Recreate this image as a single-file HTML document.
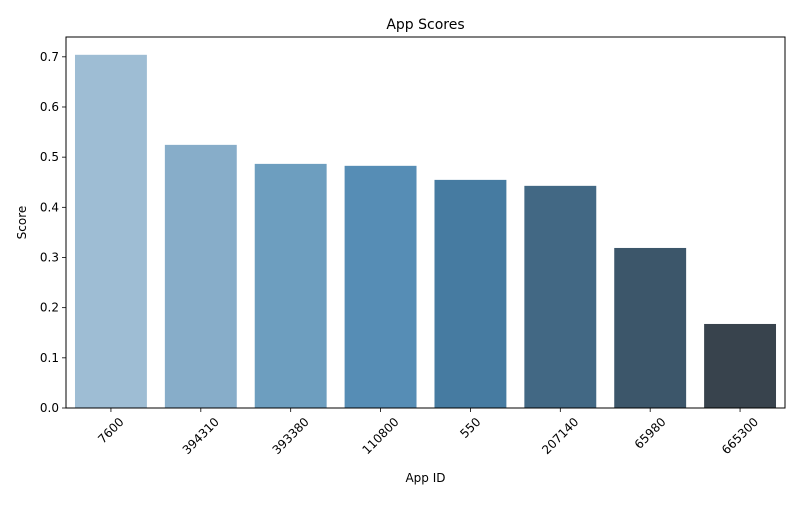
<!DOCTYPE html>
<html><head><meta charset="utf-8"><style>
body{margin:0;background:#fff}
svg text{font-family:"DejaVu Sans","Liberation Sans",sans-serif;fill:#000}
</style></head><body>
<svg id="chart" width="800" height="500"></svg>
<script>
const categories=["7600","394310","393380","110800","550","207140","65980","665300"];
const scores=[0.704,0.5245,0.4866,0.4827,0.4547,0.4428,0.319,0.1675];
const yTicks=[0,0.1,0.2,0.3,0.4,0.5,0.6,0.7];
const colors=["#9ebdd4","#87adc9","#6d9ebf","#568db5","#467ba1","#426884","#3c566a","#38434d"];
const L=66,R=785,T=37,B=408,yMax=0.7395;
const svg=document.getElementById('chart');
const NS='http://www.w3.org/2000/svg';
function el(t,a,p){const e=document.createElementNS(NS,t);for(const k in a)e.setAttribute(k,a[k]);(p||svg).appendChild(e);return e;}
const y=v=>B-(v/yMax)*(B-T);
const slot=(R-L)/categories.length;
const x=i=>L+slot*(i+0.5);
const bw=slot*0.8;
scores.forEach((v,i)=>{
 const r=el('rect',{x:x(i)-bw/2,y:y(v),width:bw,height:B-y(v),fill:colors[i]});
 
 
});
yTicks.forEach(t=>{
 el('line',{x1:L-4,x2:L,y1:y(t),y2:y(t),stroke:'#000','stroke-width':0.8});
 const tx=el('text',{x:L-7,y:y(t)+4,'text-anchor':'end','font-size':12});
 tx.textContent=t.toFixed(1);
 
 
});
categories.forEach((c,i)=>{
 el('line',{x1:x(i),x2:x(i),y1:B,y2:B+4,stroke:'#000','stroke-width':0.8});
 const tx=el('text',{x:0,y:0,'text-anchor':'middle','font-size':12});
 tx.textContent=c;
 
 
 const w=tx.getComputedTextLength(),h=12;
 const cy=B+7.5+(w+h)*0.7071/2;
 tx.setAttribute('x',x(i));tx.setAttribute('y',cy+4);
 tx.setAttribute('transform',`rotate(-45 ${x(i)} ${cy})`);
});
const fr=el('rect',{x:L,y:T,width:R-L,height:B-T,fill:'none',stroke:'#000','stroke-width':1});


const ti=el('text',{x:(L+R)/2,y:T-8,'text-anchor':'middle','font-size':14});
ti.textContent='App Scores';


const xt=el('text',{x:(L+R)/2,y:482,'text-anchor':'middle','font-size':12});
xt.textContent='App ID';


const yt=el('text',{x:26,y:(T+B)/2,'text-anchor':'middle','font-size':12,transform:`rotate(-90 26 ${(T+B)/2})`});
yt.textContent='Score';


</script>
</body></html>
